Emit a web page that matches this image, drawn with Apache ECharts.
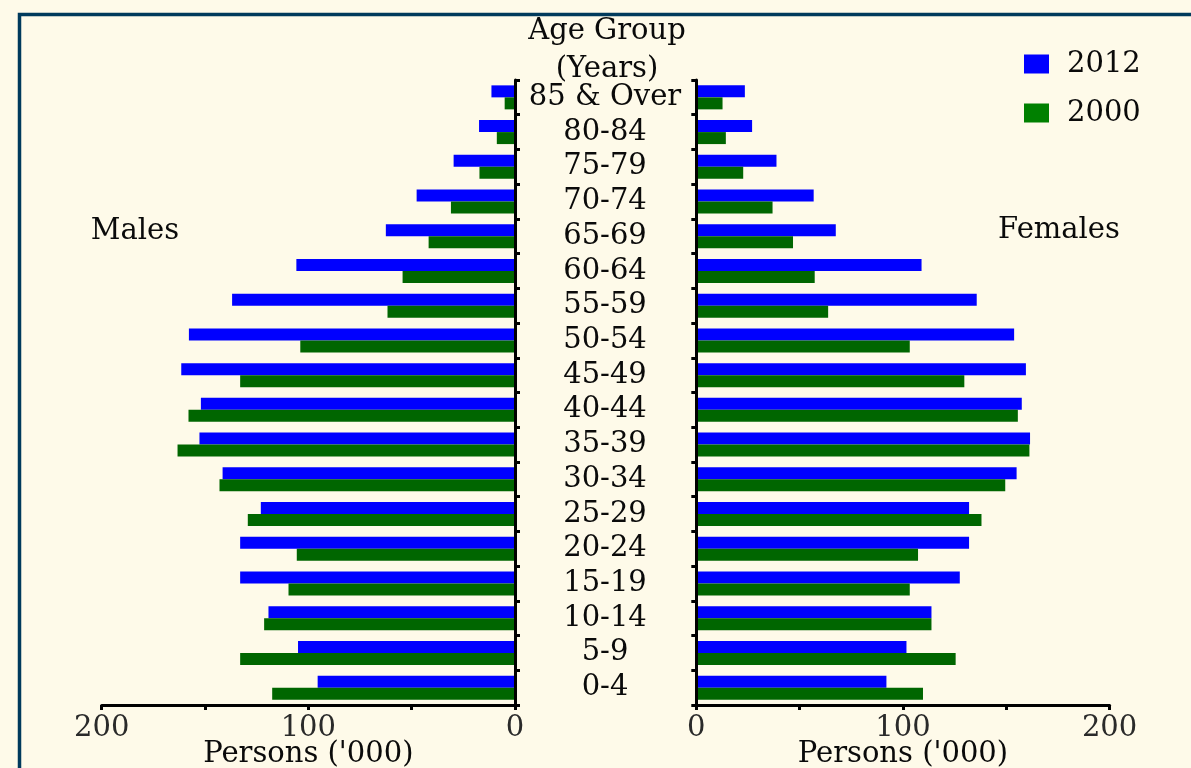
<!DOCTYPE html>
<html>
<head>
<meta charset="utf-8">
<script src="https://cdn.jsdelivr.net/npm/echarts@6/dist/echarts.min.js"></script>
<style>
html,body{margin:0;padding:0;background:#FEFAE9;}
#chart{width:1191px;height:768px;}
</style>
</head>
<body>
<div id="chart"></div>
<script>
const categories = ['0-4','5-9','10-14','15-19','20-24','25-29','30-34','35-39','40-44','45-49','50-54','55-59','60-64','65-69','70-74','75-79','80-84','85 & Over'];
const males2012   = [95.5, 105, 119.3, 133, 133, 123, 141.5, 152.7, 152, 161.5, 157.8, 136.9, 105.8, 62.5, 47.6, 29.7, 17.4, 11.4];
const males2000   = [117.5, 133, 121.4, 109.6, 105.6, 129.3, 143, 163.3, 158, 133, 103.9, 61.7, 54.4, 41.8, 31, 17.2, 8.8, 5];
const females2012 = [92, 101.7, 113.8, 127.5, 132, 132, 155, 161.5, 157.5, 159.5, 153.8, 135.7, 109, 67.5, 56.8, 38.8, 27, 23.5];
const females2000 = [109.7, 125.5, 113.8, 103.3, 107.3, 138, 149.5, 161.2, 155.6, 129.7, 103.3, 63.8, 57.3, 46.8, 36.9, 22.7, 14.3, 12.7];
const xTickLabels = [0, 100, 200];
const seriesNames = ['2012', '2000'];

const FONT = '"DejaVu Serif"';
const TXT = '#0a0a0a';
const BLUE = '#0000FF';
const GREEN = '#006600';
const GREEN_LEGEND = '#008000';

function xAxisCfg(grid, inverse) {
  return {
    gridIndex: grid, type: 'value', min: 0, max: 200, interval: 50, inverse: inverse,
    axisLine: { show: true, onZero: false, lineStyle: { color: '#000', width: 3 } },
    axisTick: { show: true, length: 5, lineStyle: { color: '#000', width: 3 } },
    splitLine: { show: false },
    axisLabel: {
      formatter: v => xTickLabels.indexOf(v) >= 0 ? String(v) : '',
      fontFamily: FONT, fontSize: 29, color: '#2a2a2a', margin: 9
    },
    name: "Persons ('000)", nameLocation: 'middle', nameGap: 35, nameMoveOverlap: false,
    nameTextStyle: { fontFamily: FONT, fontSize: 29, color: TXT }
  };
}
function yAxisCfg(grid, pos, showLabel) {
  return {
    gridIndex: grid, type: 'category', data: categories, position: pos, z: 10,
    axisLine: { show: true, onZero: false, lineStyle: { color: '#000', width: 3 } },
    axisTick: { show: true, length: 5, lineStyle: { color: '#000', width: 3 } },
    splitLine: { show: false },
    axisLabel: { show: showLabel, interval: 0, margin: 90, align: 'center',
      fontFamily: FONT, fontSize: 29, color: TXT }
  };
}
function barSeries(name, xi, data, color) {
  return { name: name, type: 'bar', xAxisIndex: xi, yAxisIndex: xi, data: data,
    barWidth: 12, barGap: '0%', itemStyle: { color: color } };
}

const chart = echarts.init(document.getElementById('chart'));
chart.setOption({
  backgroundColor: '#FEFAE9',
  animation: false,
  legend: {
    orient: 'vertical', left: 1024, top: 49, padding: 0, itemWidth: 25, itemHeight: 19, itemGap: 19,
    selectedMode: false, icon: 'rect',
    textStyle: { fontFamily: FONT, fontSize: 29, color: TXT, lineHeight: 30, padding: [0, 0, 0, 13] },
    data: [ { name: seriesNames[0], itemStyle: { color: BLUE } },
            { name: seriesNames[1], itemStyle: { color: GREEN_LEGEND } } ]
  },
  grid: [
    { left: 101.7, top: 80, width: 413.3, height: 625, outerBoundsMode: 'none', containLabel: false },
    { left: 696.3, top: 80, width: 413.3, height: 625, outerBoundsMode: 'none', containLabel: false }
  ],
  xAxis: [ xAxisCfg(0, true), xAxisCfg(1, false) ],
  yAxis: [ yAxisCfg(0, 'right', true), yAxisCfg(1, 'left', false) ],
  series: [
    barSeries(seriesNames[0], 0, males2012, BLUE),
    barSeries(seriesNames[1], 0, males2000, GREEN),
    barSeries(seriesNames[0], 1, females2012, BLUE),
    barSeries(seriesNames[1], 1, females2000, GREEN)
  ],
  graphic: [
    { type: 'polyline', shape: { points: [[19.5, 768], [19.5, 14.5], [1191, 14.5]] },
      style: { stroke: '#003A5C', lineWidth: 3.5, fill: null } },
    { type: 'text', x: 607, y: 31, style: { text: 'Age Group', font: '29px ' + FONT, fill: TXT, align: 'center', verticalAlign: 'middle', textAlign: 'center', textVerticalAlign: 'middle' } },
    { type: 'text', x: 607, y: 69, style: { text: '(Years)', font: '29px ' + FONT, fill: TXT, align: 'center', verticalAlign: 'middle', textAlign: 'center', textVerticalAlign: 'middle' } },
    { type: 'text', x: 135, y: 231, style: { text: 'Males', font: '29px ' + FONT, fill: TXT, align: 'center', verticalAlign: 'middle', textAlign: 'center', textVerticalAlign: 'middle' } },
    { type: 'text', x: 1059, y: 230, style: { text: 'Females', font: '29px ' + FONT, fill: TXT, align: 'center', verticalAlign: 'middle', textAlign: 'center', textVerticalAlign: 'middle' } }
  ]
});
</script>
</body>
</html>
